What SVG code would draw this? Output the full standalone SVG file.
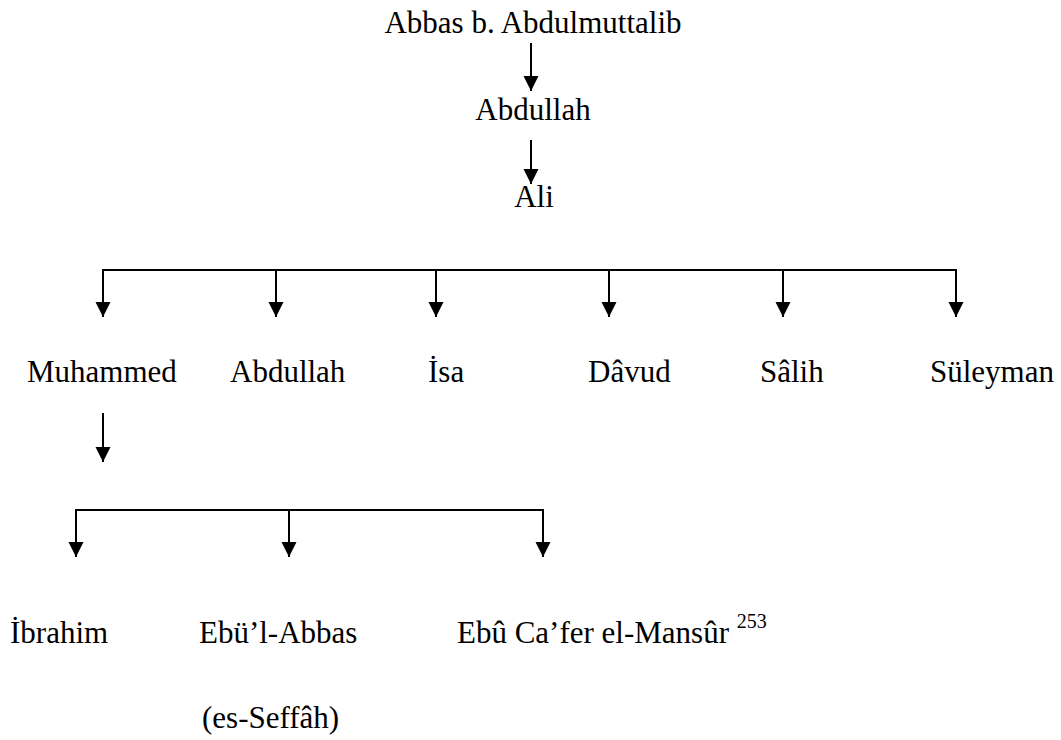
<svg xmlns="http://www.w3.org/2000/svg" width="1061" height="740" viewBox="0 0 1061 740">
<style>
  text { font-family: "Liberation Serif", "Times New Roman", serif; font-size: 31px; fill: #000; }
  .sup { font-size: 20px; }
  .ln { stroke: #000; stroke-width: 2; fill: none; }
</style>
<defs>
  <marker id="ah" markerUnits="userSpaceOnUse" markerWidth="16" markerHeight="16" viewBox="0 0 16 16" refX="15" refY="8" orient="auto">
    <path d="M0,0.5 L15,8 L0,15.5 Z" fill="#000"/>
  </marker>
</defs>
<rect width="1061" height="740" fill="#fff"/>
<g id="connectors">
  <line class="ln" x1="531" y1="43" x2="531" y2="91" marker-end="url(#ah)"/>
  <line class="ln" x1="531" y1="140" x2="531" y2="184" marker-end="url(#ah)"/>
  <polyline class="ln" points="103,317 103,270 956,270 956,317" marker-end="url(#ah)"/>
  <line class="ln" x1="103" y1="270" x2="103" y2="317" marker-end="url(#ah)"/>
  <line class="ln" x1="276" y1="270" x2="276" y2="317" marker-end="url(#ah)"/>
  <line class="ln" x1="436" y1="270" x2="436" y2="317" marker-end="url(#ah)"/>
  <line class="ln" x1="609" y1="270" x2="609" y2="317" marker-end="url(#ah)"/>
  <line class="ln" x1="783" y1="270" x2="783" y2="317" marker-end="url(#ah)"/>
  <line class="ln" x1="103" y1="413" x2="103" y2="462" marker-end="url(#ah)"/>
  <polyline class="ln" points="76,557 76,510 543,510 543,557" marker-end="url(#ah)"/>
  <line class="ln" x1="76" y1="510" x2="76" y2="557" marker-end="url(#ah)"/>
  <line class="ln" x1="289" y1="510" x2="289" y2="557" marker-end="url(#ah)"/>
</g>
<g id="abbas"><text x="533" y="33" text-anchor="middle">Abbas b. Abdulmuttalib</text></g>
<g id="abdullah1"><text x="533" y="120" text-anchor="middle">Abdullah</text></g>
<g id="ali"><text x="534" y="207" text-anchor="middle">Ali</text></g>
<g id="muhammed"><text x="27" y="382">Muhammed</text></g>
<g id="abdullah2"><text x="230" y="382">Abdullah</text></g>
<g id="isa"><text x="428" y="382">İsa</text></g>
<g id="davud"><text x="588" y="382">Dâvud</text></g>
<g id="salih"><text x="760" y="382">Sâlih</text></g>
<g id="suleyman"><text x="930" y="382">Süleyman</text></g>
<g id="ibrahim"><text x="10" y="643">İbrahim</text></g>
<g id="ebulabbas"><text x="199" y="643">Ebü’l-Abbas</text><text x="202" y="728">(es-Seffâh)</text></g>
<g id="mansur"><text x="457" y="643">Ebû Ca’fer el-Mansûr <tspan class="sup" dy="-15">253</tspan></text></g>
</svg>
